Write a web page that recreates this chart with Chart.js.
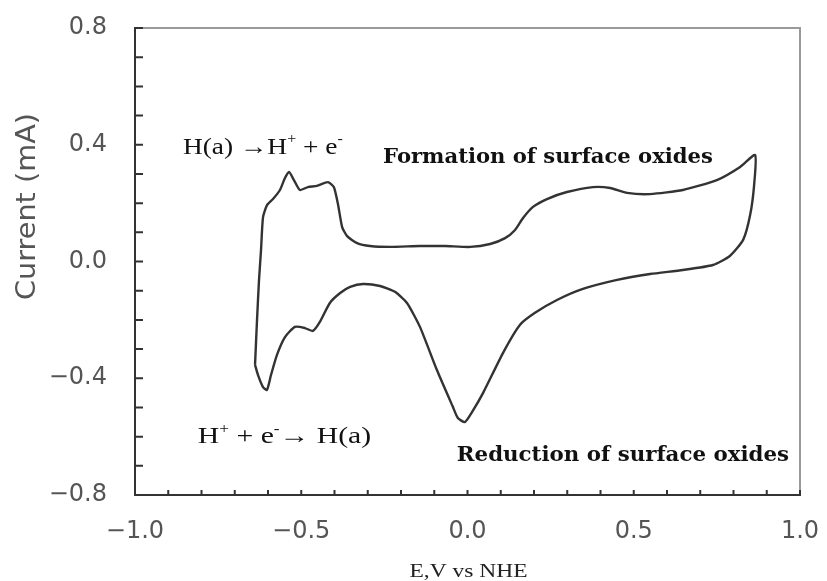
<!DOCTYPE html>
<html>
<head>
<meta charset="utf-8">
<script src="https://cdn.jsdelivr.net/npm/chart.js@4.4.1/dist/chart.umd.min.js"></script>
<style>
  html, body { margin: 0; padding: 0; background: #ffffff; }
  #wrap { width: 827px; height: 581px; position: relative; }
</style>
</head>
<body>
<div id="wrap"><canvas id="cv" width="827" height="581"></canvas></div>
<script>
// Cyclic voltammogram: anodic sweep (upper branch) then cathodic sweep (lower branch), closed loop
const potential = [
  -0.639, -0.633, -0.627, -0.621, -0.615, -0.603, -0.585, -0.564, -0.549, -0.537,
  -0.522, -0.504, -0.480, -0.453, -0.420, -0.402, -0.389, -0.377, -0.362, -0.332,
  -0.293, -0.233, -0.143, -0.068, 0.008, 0.068, 0.113, 0.143, 0.167, 0.197,
  0.239, 0.299, 0.377, 0.429, 0.480, 0.549, 0.648, 0.750, 0.820, 0.865,
  0.862, 0.850, 0.829, 0.789, 0.738, 0.648, 0.549, 0.450, 0.347, 0.269,
  0.203, 0.158, 0.107, 0.047, 0.014, -0.008, -0.029, -0.044, -0.092, -0.143,
  -0.182, -0.218, -0.263, -0.314, -0.353, -0.383, -0.414, -0.444, -0.465, -0.489,
  -0.519, -0.549, -0.573, -0.591, -0.603, -0.615, -0.630, -0.639
];
const current = [
  -0.354, -0.200, -0.063, 0.039, 0.152, 0.193, 0.214, 0.245, 0.286, 0.307,
  0.279, 0.245, 0.255, 0.259, 0.272, 0.255, 0.193, 0.118, 0.087, 0.063,
  0.053, 0.050, 0.053, 0.053, 0.050, 0.060, 0.080, 0.108, 0.149, 0.187,
  0.214, 0.238, 0.255, 0.252, 0.235, 0.231, 0.245, 0.279, 0.324, 0.365,
  0.262, 0.159, 0.074, 0.019, -0.012, -0.029, -0.043, -0.063, -0.094, -0.132,
  -0.176, -0.217, -0.313, -0.450, -0.515, -0.550, -0.536, -0.498, -0.372, -0.224,
  -0.142, -0.104, -0.084, -0.077, -0.087, -0.108, -0.142, -0.207, -0.238, -0.228,
  -0.224, -0.259, -0.320, -0.389, -0.440, -0.430, -0.389, -0.354
];

const xTickValues = [-1.0, -0.5, 0.0, 0.5, 1.0];
const yTickValues = [-0.8, -0.4, 0.0, 0.4, 0.8];
const minorStep = 0.1;

const xTitle = 'E,V vs NHE';
const yTitle = 'Current (mA)';

// Reaction labels, each spanning a potential range [x0, x1] at baseline current y
const reactionLabels = [
  { parts: [['H(a) \u2192H', 0], ['+', 1], [' + e', 0], ['-', 1]], x0: -0.856, x1: -0.375, y: 0.368, font: 'Liberation Serif', size: 24, weight: 'normal' },
  { parts: [['H', 0], ['+', 1], [' + e', 0], ['-', 1], ['\u2192 H(a)', 0]], x0: -0.811, x1: -0.290, y: -0.623, font: 'Liberation Serif', size: 24, weight: 'normal' },
  { parts: [['Formation of surface oxides', 0]], x0: -0.254, x1: 0.738, y: 0.337, font: 'DejaVu Serif', size: 20, weight: 'bold' },
  { parts: [['Reduction of surface oxides', 0]], x0: -0.032, x1: 0.967, y: -0.683, font: 'DejaVu Serif', size: 20, weight: 'bold' }
];

const points = potential.map((v, i) => ({ x: v, y: current[i] }));
const fmt = v => (Math.abs(v) < 1e-9 ? '0.0' : v.toFixed(1).replace('-', '\u2212'));

// Draws a run of text segments (with optional superscripts) squeezed/stretched to a given width
function drawRun(ctx, parts, font, size, weight, x, baseline, width) {
  const supSize = Math.round(size * 0.6);
  const fontOf = sup => `${weight} ${sup ? supSize : size}px "${font}"`;
  let natural = 0;
  parts.forEach(([t, sup]) => { ctx.font = fontOf(sup); natural += ctx.measureText(t).width; });
  const sx = width / natural;
  ctx.save();
  ctx.translate(x, baseline);
  ctx.scale(sx, 1);
  ctx.textAlign = 'left';
  ctx.textBaseline = 'alphabetic';
  let cx = 0;
  parts.forEach(([t, sup]) => {
    ctx.font = fontOf(sup);
    ctx.fillText(t, cx, sup ? -size * 0.45 : 0);
    cx += ctx.measureText(t).width;
  });
  ctx.restore();
}

// the tick-label padding must not enlarge the outer margins of the plot
const noExtraPadding = s => {
  s.paddingTop = 0; s.paddingBottom = 0; s.paddingLeft = 0; s.paddingRight = 0;
};

const decor = {
  id: 'decor',
  afterDraw(chart) {
    const { ctx, chartArea: a, scales: { x, y } } = chart;
    ctx.save();
    // top and right frame lines
    ctx.strokeStyle = '#9a9a9a';
    ctx.lineWidth = 2;
    ctx.beginPath();
    ctx.moveTo(a.left, a.top);
    ctx.lineTo(a.right, a.top);
    ctx.lineTo(a.right, a.bottom);
    ctx.stroke();

    // inward tick marks every 0.1
    ctx.strokeStyle = '#333';
    ctx.lineWidth = 2;
    ctx.beginPath();
    const nx = Math.round((x.max - x.min) / minorStep);
    for (let i = 0; i <= nx; i++) {
      const px = x.getPixelForValue(x.min + i * minorStep);
      ctx.moveTo(px, a.bottom);
      ctx.lineTo(px, a.bottom - 5);
    }
    const ny = Math.round((y.max - y.min) / minorStep);
    for (let i = 0; i <= ny; i++) {
      const py = y.getPixelForValue(y.min + i * minorStep);
      ctx.moveTo(a.left, py);
      ctx.lineTo(a.left + 8, py);
    }
    ctx.stroke();

    // reaction labels
    ctx.fillStyle = '#111';
    reactionLabels.forEach(l => {
      const px0 = x.getPixelForValue(l.x0);
      const px1 = x.getPixelForValue(l.x1);
      drawRun(ctx, l.parts, l.font, l.size, l.weight, px0, y.getPixelForValue(l.y), px1 - px0);
    });

    // x axis title
    ctx.fillStyle = '#222';
    const xt0 = x.getPixelForValue(0) - 58;
    drawRun(ctx, [[xTitle, 0]], 'Liberation Serif', 19, 'normal', xt0, chart.height - 4, 118);

    // y axis title (rotated)
    ctx.save();
    ctx.translate(35, 300);
    ctx.rotate(-Math.PI / 2);
    ctx.fillStyle = '#555';
    drawRun(ctx, [[yTitle, 0]], 'DejaVu Sans', 27, 'normal', 0, 0, 187);
    ctx.restore();

    ctx.restore();
  }
};

new Chart(document.getElementById('cv'), {
  type: 'scatter',
  data: {
    datasets: [{
      data: points,
      showLine: true,
      borderColor: '#333333',
      borderWidth: 2.4,
      pointRadius: 0,
      tension: 0.2,
      fill: false
    }]
  },
  options: {
    responsive: false,
    animation: false,
    devicePixelRatio: 1,
    layout: { autoPadding: false, padding: { left: 0, right: 27, top: 28, bottom: 0 } },
    plugins: { legend: { display: false }, tooltip: { enabled: false } },
    scales: {
      x: {
        type: 'linear',
        position: 'bottom',
        min: -1.0,
        max: 1.0,
        afterBuildTicks: s => { s.ticks = xTickValues.map(v => ({ value: v })); },
        afterFit: s => { s.height = 86; noExtraPadding(s); },
        ticks: {
          callback: v => fmt(v),
          color: '#555',
          font: { family: 'DejaVu Sans', size: 24 },
          padding: 22,
          maxRotation: 0
        },
        grid: { display: false, drawTicks: false },
        border: { display: true, color: '#333', width: 2 }
      },
      y: {
        type: 'linear',
        position: 'left',
        min: -0.8,
        max: 0.8,
        afterBuildTicks: s => { s.ticks = yTickValues.map(v => ({ value: v })); },
        afterFit: s => { s.width = 135; noExtraPadding(s); },
        ticks: {
          callback: v => fmt(v),
          color: '#555',
          font: { family: 'DejaVu Sans', size: 24 },
          padding: 28
        },
        grid: { display: false, drawTicks: false },
        border: { display: true, color: '#333', width: 2 }
      }
    }
  },
  plugins: [decor]
});
</script>
</body>
</html>
